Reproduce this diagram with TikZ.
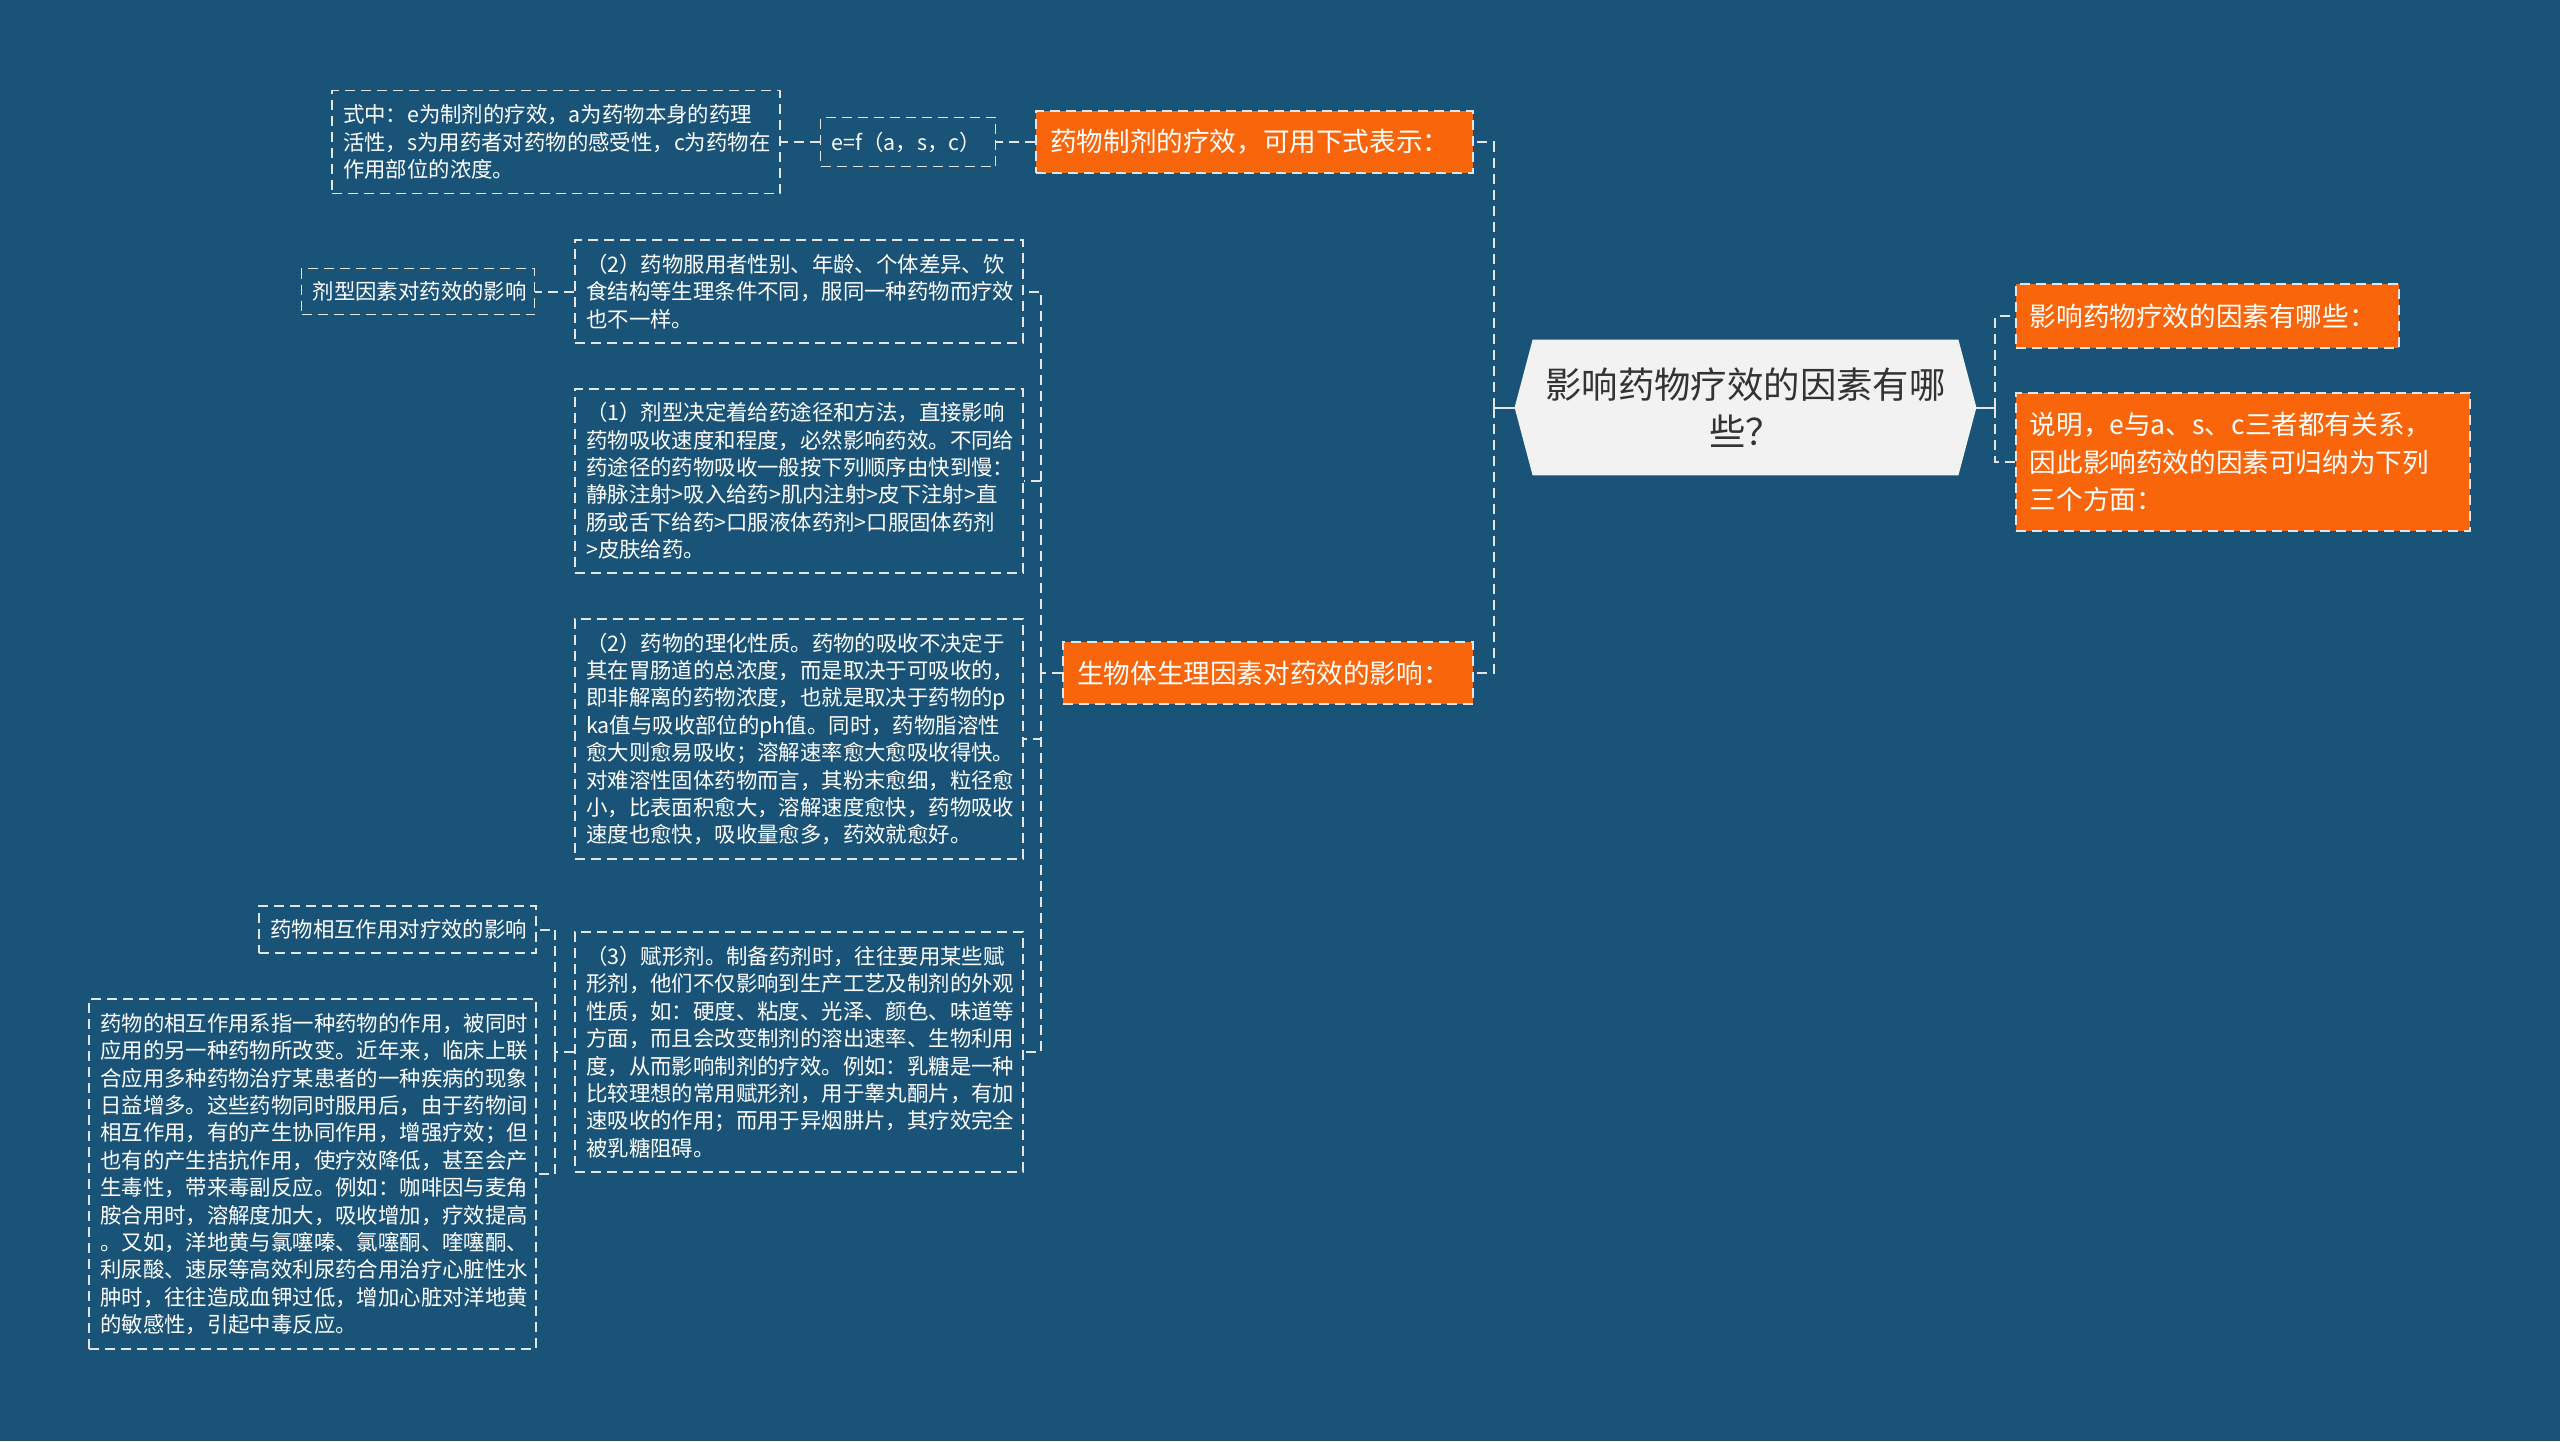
\documentclass[tikz,border=0pt]{standalone}
\usepackage{fontspec}
\newfontfamily\cjk{Noto Sans CJK SC}
\usetikzlibrary{positioning}
\pgfdeclarelayer{back}
\pgfsetlayers{back,main}
\definecolor{mapbg}{HTML}{1A5378}
\definecolor{hot}{HTML}{F9650A}
\definecolor{rootfill}{HTML}{F2F2F2}
\definecolor{rootink}{HTML}{333333}
\definecolor{rim}{HTML}{E4E4E4}

\begin{document}
\begin{tikzpicture}[x=0.5pt, y=-0.5pt, node distance=19.5pt,
    leaf/.style={draw=rim, line width=0.8pt, dash pattern=on 5pt off 3pt, text=white, align=left,
      inner xsep=5.5pt, inner ysep=0pt, font=\cjk\fontsize{10.7pt}{13.7pt}\selectfont},
    topic/.style={leaf, fill=hot, inner xsep=7pt, font=\cjk\fontsize{13.3pt}{18.8pt}\selectfont},
    hub/.style={text=rootink, align=center, inner sep=0pt, minimum width=230.5pt, minimum height=67.5pt,
      font=\cjk\fontsize{18.2pt}{23.5pt}\selectfont},
    link/.style={draw=rim, line width=1pt, dash pattern=on 5pt off 3pt},
    stub/.style={draw=rim, line width=1pt}]
\useasboundingbox (0,0) rectangle (2560,1441);

% centre
\node[hub] (root) at (1745.5,407.5) {影响药物疗效的因素有哪\\些？};

% right side
\node[topic, anchor=west, text width=177.5pt, minimum height=32pt] (r1) at (2015,316) {影响药物疗效的因素有哪些：};
\node[topic, anchor=west, text width=213pt, minimum height=69pt] (r2) at (2015,462)
  {说明，e与a、s、c三者都有关系，\\因此影响药效的因素可归纳为下列\\三个方面：};

% left side
\node[topic, anchor=east, text width=204.5pt, minimum height=31pt] (med1) at (1474,142) {药物制剂的疗效，可用下式表示：};
\node[topic, anchor=east, text width=191pt, minimum height=31pt] (med2) at (1474,673) {生物体生理因素对药效的影响：};

\node[leaf, text width=76.5pt, minimum height=24.5pt] (form) [left=of med1] {e=f（a，s，c）};
\node[leaf, text width=213pt, minimum height=51.5pt] (note) [left=of form]
  {式中：e为制剂的疗效，a为药物本身的药理\\活性，s为用药者对药物的感受性，c为药物在\\作用部位的浓度。};

\node[leaf, anchor=east, text width=213pt, minimum height=51.5pt] (c1) at (1024,291.5)
  {（2）药物服用者性别、年龄、个体差异、饮\\食结构等生理条件不同，服同一种药物而疗效\\也不一样。};
\node[leaf, anchor=east, text width=213pt, minimum height=92pt] (c2) at (1024,481)
  {（1）剂型决定着给药途径和方法，直接影响\\药物吸收速度和程度，必然影响药效。不同给\\药途径的药物吸收一般按下列顺序由快到慢：\\静脉注射>吸入给药>肌内注射>皮下注射>直\\肠或舌下给药>口服液体药剂>口服固体药剂\\>皮肤给药。};
\node[leaf, anchor=east, text width=213pt, minimum height=120pt] (c3) at (1024,739)
  {（2）药物的理化性质。药物的吸收不决定于\\其在胃肠道的总浓度，而是取决于可吸收的，\\即非解离的药物浓度，也就是取决于药物的p\\ka值与吸收部位的ph值。同时，药物脂溶性\\愈大则愈易吸收；溶解速率愈大愈吸收得快。\\对难溶性固体药物而言，其粉末愈细，粒径愈\\小，比表面积愈大，溶解速度愈快，药物吸收\\速度也愈快，吸收量愈多，药效就愈好。};
\node[leaf, anchor=east, text width=213pt, minimum height=120pt] (c4) at (1024,1052)
  {（3）赋形剂。制备药剂时，往往要用某些赋\\形剂，他们不仅影响到生产工艺及制剂的外观\\性质，如：硬度、粘度、光泽、颜色、味道等\\方面，而且会改变制剂的溶出速率、生物利用\\度，从而影响制剂的疗效。例如：乳糖是一种\\比较理想的常用赋形剂，用于睾丸酮片，有加\\速吸收的作用；而用于异烟肼片，其疗效完全\\被乳糖阻碍。};

\node[leaf, text width=105.5pt, minimum height=23pt] (d1) [left=of c1] {剂型因素对药效的影响};
\node[leaf, anchor=east, text width=127.5pt, minimum height=23.5pt] (d2) at (537,929.5) {药物相互作用对疗效的影响};
\node[leaf, anchor=east, text width=212.5pt, minimum height=175pt] (mix) at (537,1174)
  {药物的相互作用系指一种药物的作用，被同时\\应用的另一种药物所改变。近年来，临床上联\\合应用多种药物治疗某患者的一种疾病的现象\\日益增多。这些药物同时服用后，由于药物间\\相互作用，有的产生协同作用，增强疗效；但\\也有的产生拮抗作用，使疗效降低，甚至会产\\生毒性，带来毒副反应。例如：咖啡因与麦角\\胺合用时，溶解度加大，吸收增加，疗效提高\\。又如，洋地黄与氯噻嗪、氯噻酮、喹噻酮、\\利尿酸、速尿等高效利尿药合用治疗心脏性水\\肿时，往往造成血钾过低，增加心脏对洋地黄\\的敏感性，引起中毒反应。};

% connectors
\draw[stub] (root.east) -- ++(19,0) coordinate (rj);
\draw[link] (rj) |- (r1.west);
\draw[link] (rj) |- (r2.west);
\draw[stub] (root.west) -- ++(-21,0) coordinate (lj);
\draw[link] (lj) |- (med1.east);
\draw[link] (lj) |- (med2.east);
\draw[link] (med1.west) -- (form.east);
\draw[link] (form.west) -- (note.east);
\draw[link] (med2.west) -- ++(-21,0) coordinate (bj);
\foreach \c in {c1,c2,c3,c4}
  \draw[link] (bj) |- (\c.east);
\draw[link] (c1.west) -- (d1.east);
\draw[link] (c4.west) -- ++(-19,0) coordinate (cj);
\draw[link] (cj) |- (d2.east);
\draw[link] (cj) |- (mix.east);

\begin{pgfonlayer}{back}
  \fill[mapbg] (0,0) rectangle (2560,1441);
  \fill[rootfill] ([xshift=9pt]root.north west) -- ([xshift=-9pt]root.north east) -- (root.east)
    -- ([xshift=-9pt]root.south east) -- ([xshift=9pt]root.south west) -- (root.west) -- cycle;
\end{pgfonlayer}
\end{tikzpicture}
\end{document}
